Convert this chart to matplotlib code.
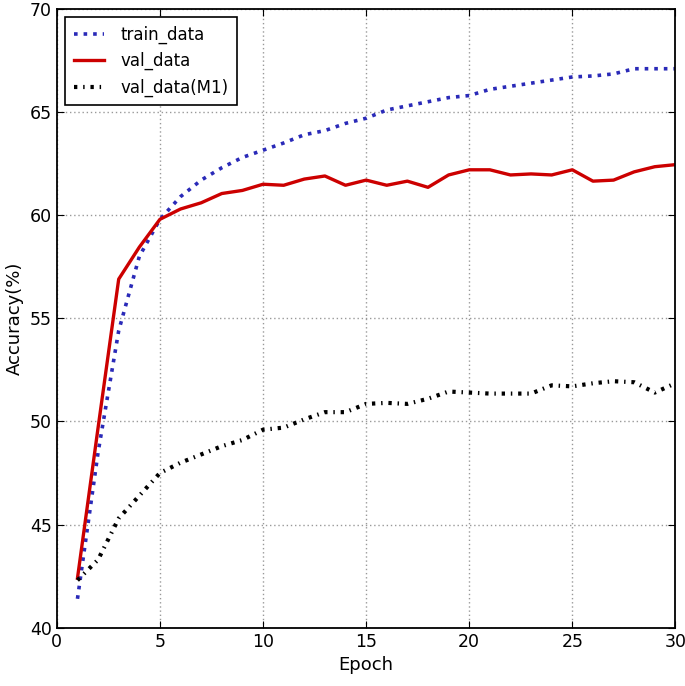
import numpy as np
import matplotlib
matplotlib.use("Agg")
import matplotlib.pyplot as plt

# Values
epochs = list(range(1, 31))
train_data = [41.4, 48.5, 54.4, 58.0, 59.8, 60.9, 61.7, 62.3, 62.8, 63.15,
              63.5, 63.9, 64.1, 64.45, 64.7, 65.1, 65.3, 65.5, 65.7, 65.8,
              66.1, 66.25, 66.4, 66.55, 66.7, 66.75, 66.85, 67.1, 67.1, 67.1]
val_data = [42.4, 49.7, 56.9, 58.45, 59.8, 60.3, 60.6, 61.05, 61.2, 61.5,
            61.45, 61.75, 61.9, 61.45, 61.7, 61.45, 61.65, 61.35, 61.95, 62.2,
            62.2, 61.95, 62.0, 61.95, 62.2, 61.65, 61.7, 62.1, 62.35, 62.45]
val_m1 = [42.3, 43.3, 45.3, 46.4, 47.5, 48.0, 48.4, 48.8, 49.1, 49.6,
          49.7, 50.1, 50.45, 50.45, 50.85, 50.9, 50.85, 51.1, 51.45, 51.4,
          51.35, 51.35, 51.35, 51.75, 51.7, 51.85, 51.95, 51.9, 51.4, 51.85]

fig = plt.figure(figsize=(6.85, 6.86), dpi=100)
ax = fig.add_axes([0.083, 0.085, 0.903, 0.902])

ax.plot(epochs, train_data, linestyle=':', color='#2a2ab8', linewidth=2.6, label='train_data')
ax.plot(epochs, val_data, linestyle='-', color='#cc0000', linewidth=2.4, label='val_data')
ax.plot(epochs, val_m1, color='black', linewidth=3, dashes=(0.8, 1.4, 0.35, 1.4), label='val_data(M1)')

ax.set_xlim(0, 30)
ax.set_ylim(40, 70)
ax.set_xticks([0, 5, 10, 15, 20, 25, 30])
ax.set_yticks([40, 45, 50, 55, 60, 65, 70])
ax.grid(True, linestyle=(0, (1, 2)), color='#999999', linewidth=1.0)
ax.tick_params(direction='in', top=True, right=True, length=5, labelsize=12.5)
for s in ax.spines.values():
    s.set_linewidth(1.3)

ax.set_xlabel('Epoch', fontsize=13)
ax.set_ylabel('Accuracy(%)', fontsize=13)

leg = ax.legend(loc='upper left', fontsize=12, fancybox=False, framealpha=1,
                edgecolor='black', handlelength=1.8, handletextpad=1.0, borderpad=0.5)
leg.get_frame().set_linewidth(1.2)

fig.savefig('out.png', dpi=100)
